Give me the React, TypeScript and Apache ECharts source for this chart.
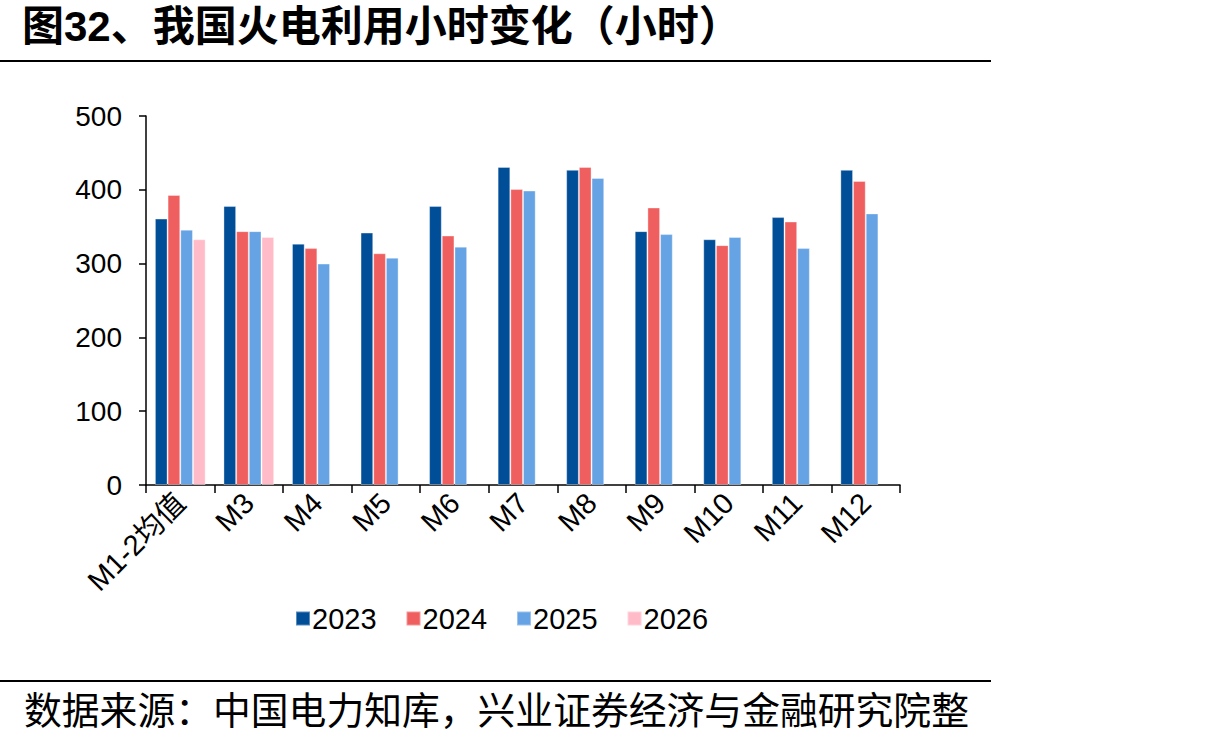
import React, { useEffect, useRef } from "react";
import * as echarts from "echarts";

const categories = ["M1-2均值", "M3", "M4", "M5", "M6", "M7", "M8", "M9", "M10", "M11", "M12"];
const s2023 = [361, 378, 327, 342, 378, 431, 427, 344, 333, 363, 427];
const s2024 = [393, 344, 321, 314, 338, 401, 431, 376, 325, 357, 412];
const s2025 = [346, 344, 300, 308, 323, 399, 416, 340, 336, 321, 368];
const s2026 = [333, 336, null, null, null, null, null, null, null, null, null];
const seriesNames = ["2023", "2024", "2025", "2026"];
const yTicks = { min: 0, max: 500, interval: 100 };

const colors = ["#004D98", "#F05F5F", "#66A3E4", "#FFBCC8"];
const titleText = "图32、我国火电利用小时变化（小时）";
const sourceText = "数据来源：中国电力知库，兴业证券经济与金融研究院整";

export default function App() {
  const ref = useRef<HTMLDivElement>(null);
  useEffect(() => {
    document.body.style.margin = "0";
    const chart = echarts.init(ref.current!, null, { renderer: "svg" });
    const data = [s2023, s2024, s2025, s2026];
    chart.setOption({
      animation: false,
      backgroundColor: "#fff",
      textStyle: { fontFamily: "Liberation Sans, Noto Sans CJK SC" },
      grid: { left: 146, right: 305, top: 116, bottom: 258 },
      legend: {
        data: seriesNames,
        left: 290,
        top: 599,
        itemWidth: 14,
        itemHeight: 14,
        itemGap: 29,
        icon: "rect",
        textStyle: { fontSize: 29, color: "#000", fontFamily: "Liberation Sans", padding: [0, 0, 0, -3] },
      },
      xAxis: {
        type: "category",
        data: categories,
        axisLine: { lineStyle: { color: "#000", width: 1.5 } },
        axisTick: { show: true, length: 8, lineStyle: { color: "#000", width: 1.5 } },
        axisLabel: {
          rotate: 45,
          interval: 0,
          fontSize: 29,
          color: "#000",
          margin: 13,
          fontFamily: "Liberation Sans, Noto Sans CJK SC",
        },
      },
      yAxis: {
        type: "value",
        min: yTicks.min,
        max: yTicks.max,
        interval: yTicks.interval,
        splitLine: { show: false },
        axisLine: { show: true, lineStyle: { color: "#000", width: 1.5 } },
        axisTick: { show: true, length: 7, lineStyle: { color: "#000", width: 1.5 } },
        axisLabel: { fontSize: 28, color: "#000", margin: 24, fontFamily: "Liberation Sans" },
      },
      series: seriesNames.map((name, i) => ({
        name,
        type: "bar",
        data: data[i],
        barGap: "0%",
        barCategoryGap: "26%",
        itemStyle: { color: colors[i], borderColor: "rgba(255,255,255,0.35)", borderWidth: 1 },
      })),
      graphic: [
        {
          type: "text",
          left: 22,
          top: 5,
          style: {
            text: titleText,
            fontSize: 42,
            fontWeight: "bold",
            fill: "#000",
            fontFamily: "Liberation Sans, Noto Sans CJK SC",
          },
        },
        {
          type: "line",
          shape: { x1: 0, y1: 61, x2: 991, y2: 61 },
          style: { stroke: "#000", lineWidth: 2 },
        },
        {
          type: "line",
          shape: { x1: 0, y1: 681, x2: 991, y2: 681 },
          style: { stroke: "#000", lineWidth: 2 },
        },
        {
          type: "text",
          left: 24,
          top: 689,
          style: {
            text: sourceText,
            fontSize: 37.8,
            fill: "#000",
            fontFamily: "Noto Sans CJK SC",
          },
        },
      ],
    });
    return () => chart.dispose();
  }, []);
  return <div ref={ref} style={{ width: 1205, height: 743 }} />;
}
